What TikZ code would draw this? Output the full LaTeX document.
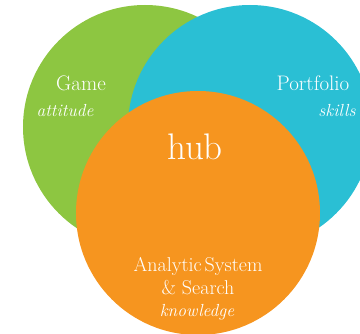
\documentclass[tikz,border=0pt]{standalone}
\usepackage{xcolor}
\usepackage{tikz}
\definecolor{gamegreen}{HTML}{8DC641}
\definecolor{portcyan}{HTML}{2ABFD4}
\definecolor{huborange}{HTML}{F6951F}
\begin{document}
\begin{tikzpicture}[x=1pt,y=-1pt,
	ring/.style={circle,minimum size=244pt,inner sep=0pt},
	lbl/.style={text=white,inner sep=0pt,anchor=base,font=\fontsize{21}{24}\selectfont},
	sub/.style={text=white,inner sep=0pt,anchor=base,font=\fontsize{17.5}{22}\selectfont\itshape}]
	\useasboundingbox (0,0) rectangle (360,334);
	\clip (0,0) rectangle (360,334);
	% Vẽ các vòng tròn
	\node [ring,fill=gamegreen] (game) at (145,127) {};
	\node [ring,fill=portcyan] (portfolio) at (250,127) {};
	\node [ring,fill=huborange] (analytic) at (198,213) {};
	% Vẽ chữ
	\node [lbl] (gamelbl) at (81,91) {Game};
	\node [sub] (attitude) at (65,117) {attitude};
	\node [lbl] (portlbl) at (313,91) {Portfolio};
	\node [sub] (skills) at (337,117) {skills};
	\node [lbl,font=\fontsize{37}{40}\selectfont] (hub) at (195,160) {hub};
	\node [lbl,font=\fontsize{20}{24}\selectfont] (system) at (198,272) {Analytic\hspace{3pt}System};
	\node [lbl,font=\fontsize{20}{24}\selectfont] (search) at (198,295) {\& Search};
	\node [sub] (knowledge) at (197,317) {knowledge};
\end{tikzpicture}
\end{document}
